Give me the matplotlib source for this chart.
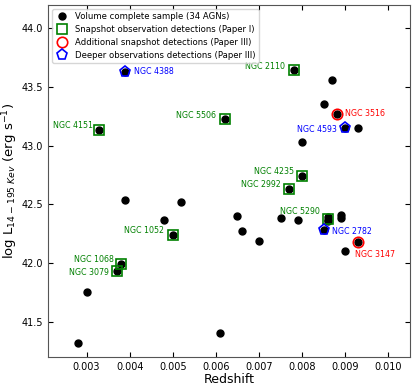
import numpy as np
import matplotlib
matplotlib.use('Agg')
import matplotlib.pyplot as plt

# volume complete sample (redshift, log L)
z_all = [0.0039, 0.0033, 0.0078, 0.0087, 0.0085, 0.0088, 0.0090, 0.0093, 0.0080,
         0.0062, 0.0080, 0.0077, 0.0039, 0.0052, 0.0048, 0.0050, 0.0038, 0.0037,
         0.0030, 0.0028, 0.0065, 0.0066, 0.0070, 0.0075, 0.0079, 0.0086, 0.0086,
         0.0089, 0.0089, 0.0085, 0.0093, 0.0090, 0.0061, 0.0086]
L_all = [43.63, 43.135, 43.64, 43.56, 43.35, 43.27, 43.15, 43.15, 43.03,
         43.23, 42.74, 42.63, 42.54, 42.52, 42.37, 42.24, 41.99, 41.93,
         41.75, 41.32, 42.40, 42.27, 42.19, 42.38, 42.37, 42.39, 42.36,
         42.41, 42.38, 42.28, 42.18, 42.10, 41.40, 42.37]

# Paper I snapshot detections
snap_names = ['NGC 4151', 'NGC 2110', 'NGC 5506', 'NGC 4235', 'NGC 2992',
              'NGC 1052', 'NGC 1068', 'NGC 3079', 'NGC 5290']
snap_z = [0.0033, 0.0078, 0.0062, 0.0080, 0.0077, 0.0050, 0.0038, 0.0037, 0.0086]
snap_L = [43.135, 43.64, 43.23, 42.74, 42.63, 42.24, 41.99, 41.93, 42.375]

# Paper III additional snapshot
add_names = ['NGC 3516', 'NGC 3147']
add_z = [0.0088, 0.0093]
add_L = [43.27, 42.18]

# Paper III deeper observations
deep_names = ['NGC 4388', 'NGC 4593', 'NGC 2782']
deep_z = [0.0039, 0.0090, 0.0085]
deep_L = [43.63, 43.15, 42.28]

fig = plt.figure(figsize=(4.15, 3.9), dpi=100)
ax = fig.add_axes([0.115, 0.085, 0.873, 0.903])

ax.plot(z_all, L_all, 'ko', ms=5, ls='none', label='Volume complete sample (34 AGNs)')
ax.plot(snap_z, snap_L, 's', ms=7.5, mfc='none', mec='green', mew=1.2, ls='none',
        label='Snapshot observation detections (Paper I)')
ax.plot(add_z, add_L, 'o', ms=7.5, mfc='none', mec='red', mew=1.2, ls='none',
        label='Additional snapshot detections (Paper III)')
ax.plot(deep_z, deep_L, 'p', ms=8, mfc='none', mec='blue', mew=1.2, ls='none',
        label='Deeper observations detections (Paper III)')

# label offsets in points
snap_off = {'NGC 4151': (-5, 3, 'right'), 'NGC 2110': (-6, 3, 'right'),
            'NGC 5506': (-6, 2, 'right'), 'NGC 4235': (-6, 3, 'right'),
            'NGC 2992': (-6, 3, 'right'), 'NGC 1052': (-6, 3, 'right'),
            'NGC 1068': (-5, 3, 'right'), 'NGC 3079': (-6, -1, 'right'),
            'NGC 5290': (-6, 5, 'right')}
for n, x, y in zip(snap_names, snap_z, snap_L):
    dx, dy, ha = snap_off[n]
    ax.annotate(n, (x, y), xytext=(dx, dy), textcoords='offset points',
                ha=ha, va='center', color='green', fontsize=5.7)

add_off = {'NGC 3516': (6, 0, 'left'), 'NGC 3147': (-2, -9, 'left')}
for n, x, y in zip(add_names, add_z, add_L):
    dx, dy, ha = add_off[n]
    ax.annotate(n, (x, y), xytext=(dx, dy), textcoords='offset points',
                ha=ha, va='center', color='red', fontsize=5.7)

deep_off = {'NGC 4388': (6, 0, 'left'), 'NGC 4593': (-6, -1, 'right'),
            'NGC 2782': (6, -1, 'left')}
for n, x, y in zip(deep_names, deep_z, deep_L):
    dx, dy, ha = deep_off[n]
    ax.annotate(n, (x, y), xytext=(dx, dy), textcoords='offset points',
                ha=ha, va='center', color='blue', fontsize=5.7)

ax.set_xlim(0.0021, 0.0105)
ax.set_ylim(41.2, 44.2)
ax.set_xticks([0.003, 0.004, 0.005, 0.006, 0.007, 0.008, 0.009, 0.010])
ax.set_xticklabels(['0.003', '0.004', '0.005', '0.006', '0.007', '0.008', '0.009', '0.010'])
ax.set_yticks([41.5, 42.0, 42.5, 43.0, 43.5, 44.0])
ax.tick_params(direction='in', top=True, right=True, labelsize=7, length=3.5)
ax.set_xlabel('Redshift', fontsize=9, labelpad=1)
ax.set_ylabel(r'log L$_{14-195\ Kev}$ (erg s$^{-1}$)', fontsize=9.5, labelpad=1)
for s in ax.spines.values():
    s.set_color('#555555')

ax.legend(loc='upper left', fontsize=6.1, handletextpad=0.8, borderpad=0.4,
          labelspacing=0.45, handlelength=1.5, borderaxespad=0.5)

fig.savefig('out.png', dpi=100)
